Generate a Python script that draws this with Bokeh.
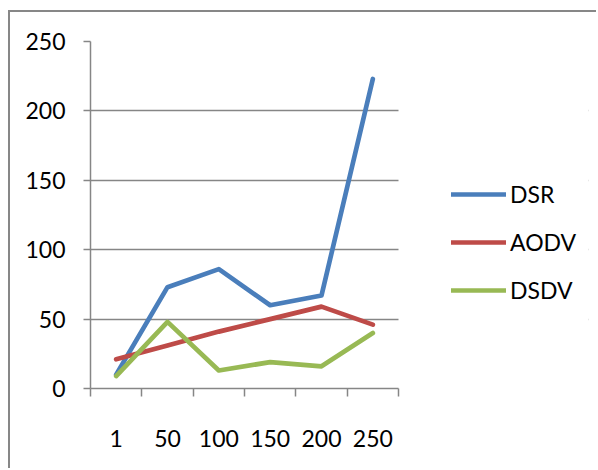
from bokeh.plotting import figure
from bokeh.models import Range1d, FixedTicker, Legend, LegendItem, BoxAnnotation
from bokeh.embed import file_html
from bokeh.resources import INLINE

# Node counts (x categories) and the three routing protocols
categories = ["1", "50", "100", "150", "200", "250"]
dsr = [10, 73, 86, 60, 67, 223]
aodv = [21, 31, 41, 50, 59, 46]
dsdv = [9, 48, 13, 19, 16, 40]
y_ticks = [0, 50, 100, 150, 200, 250]

series = [
    ("DSR", dsr, "#4A7EBB"),
    ("AODV", aodv, "#BE4B48"),
    ("DSDV", dsdv, "#98B954"),
]

FONT = "Lato"
GREY = "#868686"

n = len(categories)
# category slots: each category sits in the middle of a unit-wide slot
centers = [i + 0.5 for i in range(n)]
bounds = list(range(n + 1))

# the plotting area is 308px for the data slots; the frame carries on to the
# right so the legend can sit inside it
slot_px = 308 / n
extra_px = 190
x_end = n + extra_px / slot_px

p = figure(
    width=588, height=458,
    x_range=Range1d(0, x_end),
    y_range=Range1d(y_ticks[0], y_ticks[-1]),
    output_backend="svg", toolbar_location=None,
    min_border_left=80, min_border_right=10,
    min_border_top=29, min_border_bottom=82,
    styles={
        "margin-left": "8px",
        "margin-top": "10px",
        "border-left": "2px solid #878787",
        "border-top": "2px solid #878787",
    },
)
p.outline_line_color = None
p.background_fill_color = "white"
p.border_fill_color = "white"

# x axis: labels at slot centres, tick marks at slot boundaries
p.xaxis.bounds = (0, n)
p.xaxis.ticker = FixedTicker(ticks=centers, minor_ticks=bounds)
p.xaxis.major_label_overrides = {c: lab for c, lab in zip(centers, categories)}
p.xaxis.major_tick_out = 0
p.xaxis.major_tick_in = 0
p.xaxis.minor_tick_out = 8
p.xaxis.minor_tick_in = 0
p.xaxis.minor_tick_line_color = GREY
p.xaxis.minor_tick_line_width = 1.5
p.xaxis.major_label_standoff = 33

p.yaxis.ticker = FixedTicker(ticks=y_ticks)
p.yaxis.major_tick_out = 7
p.yaxis.major_tick_in = 0
p.yaxis.minor_tick_out = 0
p.yaxis.minor_tick_in = 0
p.yaxis.major_label_standoff = 18

for ax in (p.xaxis, p.yaxis):
    ax.axis_line_color = GREY
    ax.axis_line_width = 1.5
    ax.major_tick_line_color = GREY
    ax.major_tick_line_width = 1.5
    ax.major_label_text_font = FONT
    ax.major_label_text_font_size = "23px"
    ax.major_label_text_color = "black"

p.xgrid.visible = False
p.ygrid.ticker = FixedTicker(ticks=y_ticks)
p.ygrid.grid_line_color = GREY
p.ygrid.grid_line_width = 1.5

# blank out the grid beyond the last category slot
p.add_layout(BoxAnnotation(left=n, fill_color="white", fill_alpha=1,
                           line_color=None, level="underlay"))

items = []
for name, vals, color in series:
    r = p.line(centers, vals, line_width=4.7, line_color=color,
               line_join="round", line_cap="round")
    items.append(LegendItem(label=name, renderers=[r]))

legend = Legend(
    items=items, location=(361, 84),
    glyph_width=55, glyph_height=24, label_height=24,
    label_standoff=4, spacing=20, padding=0, margin=0,
    border_line_color=None, background_fill_alpha=0,
    label_text_font=FONT, label_text_font_size="23px",
    label_text_color="black",
)
p.add_layout(legend)

open("out.html", "w").write(file_html(p, INLINE))
